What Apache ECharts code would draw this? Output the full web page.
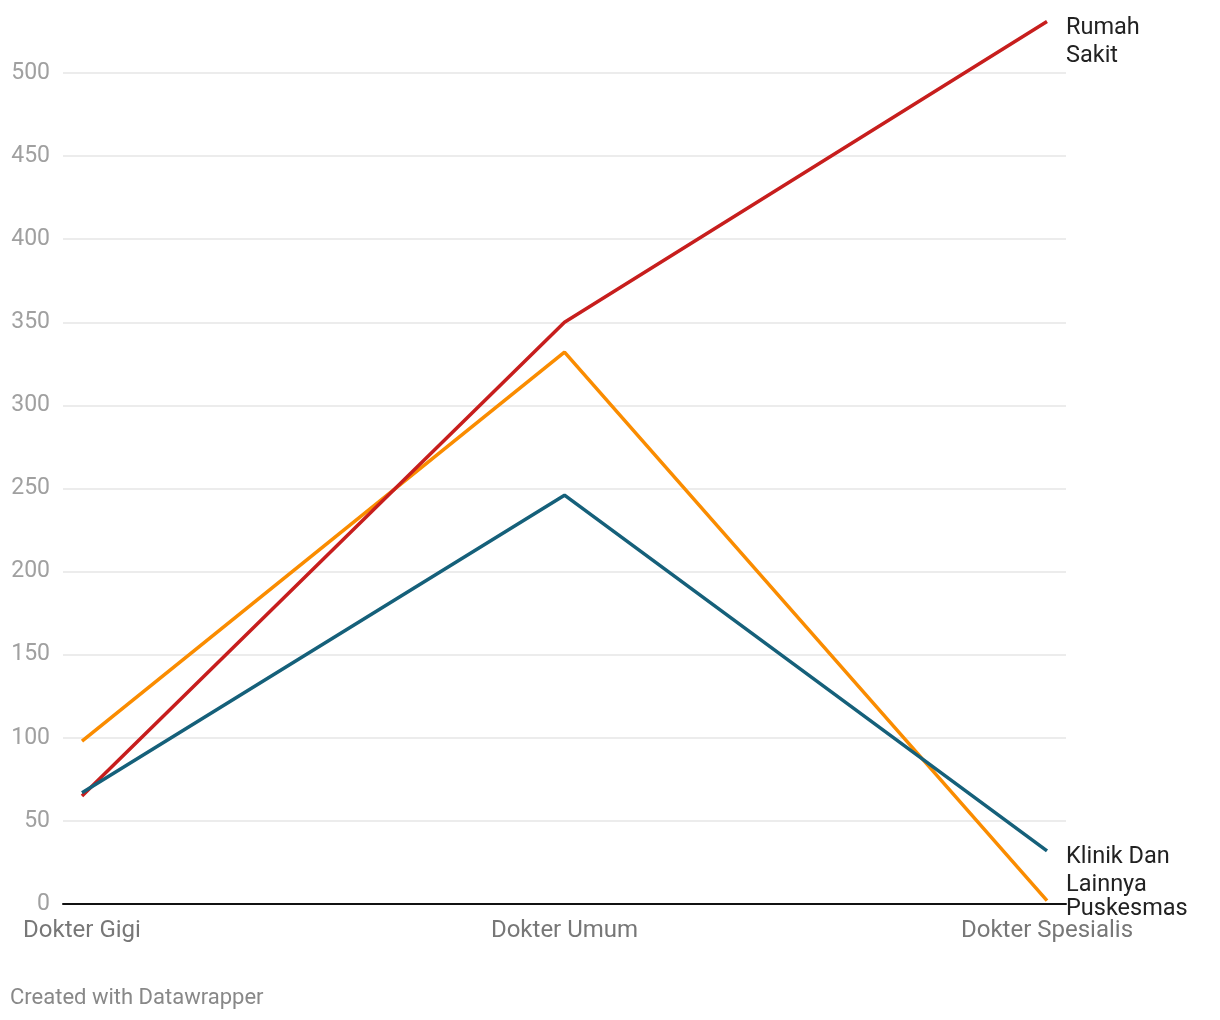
<!DOCTYPE html>
<html>
<head>
<meta charset="utf-8">
<script src="https://cdn.jsdelivr.net/npm/echarts@6/dist/echarts.min.js"></script>
<style>
html,body{margin:0;padding:0;background:#fff;}
#c{width:1220px;height:1020px;}
</style>
</head>
<body>
<div id="c"></div>
<script>
const categories = ['Dokter Gigi', 'Dokter Umum', 'Dokter Spesialis'];
const rumahSakit = [65, 350, 531];
const puskesmas = [98, 332, 2];
const klinik = [67, 246, 32];
const yTicks = { min: 0, max: 500, interval: 50 };

const chart = echarts.init(document.getElementById('c'), null, { renderer: 'canvas' });
const font = 'Roboto, "Noto Sans", sans-serif';
const endLbl = (name, dy) => ({
  show: true,
  formatter: name,
  distance: 19,
  align: 'left',
  verticalAlign: 'top',
  offset: [0, dy],
  fontFamily: font,
  fontSize: 23.5,
  lineHeight: 28,
  color: '#222'
});
chart.setOption({
  animation: false,
  backgroundColor: '#fff',
  textStyle: { fontFamily: font },
  graphic: [{
    type: 'text', left: 10, top: 987,
    style: { text: 'Created with Datawrapper', fontFamily: font, fontSize: 22, fill: '#888' }
  }],
  grid: [
    { left: 63, right: 154, top: 73, bottom: 116 },
    { left: 82, right: 173, top: 73, bottom: 116 }
  ],
  xAxis: [
    { gridIndex: 0, type: 'category', data: categories, z: 10,
      axisLine: { show: true, lineStyle: { color: '#111', width: 2 } },
      axisTick: { show: false }, axisLabel: { show: false }, splitLine: { show: false } },
    { gridIndex: 1, type: 'category', data: categories, boundaryGap: false,
      axisLine: { show: false }, axisTick: { show: false },
      axisLabel: { show: true, color: '#777', fontSize: 24, fontFamily: font, margin: 15 } }
  ],
  yAxis: [
    { gridIndex: 0, type: 'value', min: yTicks.min, max: yTicks.max, interval: yTicks.interval,
      axisLine: { show: false }, axisTick: { show: false },
      axisLabel: { color: '#a0a0a0', fontSize: 23, fontFamily: font, margin: 13 },
      splitLine: { lineStyle: { color: '#e6e6e6', width: 1.5 } } },
    { gridIndex: 1, type: 'value', min: yTicks.min, max: yTicks.max, interval: yTicks.interval,
      show: false, splitLine: { show: false } }
  ],
  series: [
    { name: 'Puskesmas', type: 'line', xAxisIndex: 1, yAxisIndex: 1, data: puskesmas, clip: false,
      symbol: 'none', lineStyle: { color: '#fa8c00', width: 3.5 }, itemStyle: { color: '#fa8c00' },
      endLabel: endLbl('Puskesmas', -6) },
    { name: 'Rumah Sakit', type: 'line', xAxisIndex: 1, yAxisIndex: 1, data: rumahSakit, clip: false,
      symbol: 'none', lineStyle: { color: '#c71e1d', width: 3.5 }, itemStyle: { color: '#c71e1d' },
      endLabel: endLbl('Rumah\nSakit', -7) },
    { name: 'Klinik Dan Lainnya', type: 'line', xAxisIndex: 1, yAxisIndex: 1, data: klinik, clip: false,
      symbol: 'none', lineStyle: { color: '#15607a', width: 3.5 }, itemStyle: { color: '#15607a' },
      endLabel: endLbl('Klinik Dan\nLainnya', -8) }
  ]
});
</script>
</body>
</html>
